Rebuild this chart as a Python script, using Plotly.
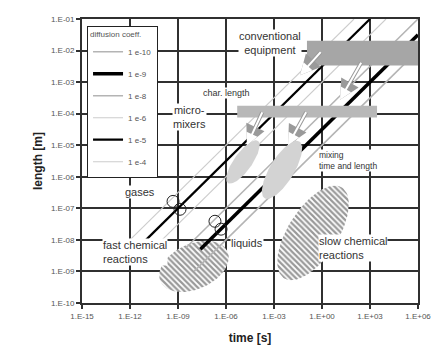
import numpy as np
import plotly.graph_objects as go

# ---------------- data ----------------
diff_coeffs = [1e-10, 1e-9, 1e-8, 1e-6, 1e-5, 1e-4]          # m^2/s
diff_labels = ["1 e-10", "1 e-9", "1 e-8", "1 e-6", "1 e-5", "1 e-4"]
line_t_start = [1e-8, 10**-7.6, 10**-8.5, 10**-11.5, 10**-11, 10**-12]  # s
t_max = 1e6
L_max = 1e-1

x_tickvals = [1e-15, 1e-12, 1e-9, 1e-6, 1e-3, 1e0, 1e3, 1e6]
x_ticktext = ["1.E-15", "1.E-12", "1.E-09", "1.E-06", "1.E-03", "1.E+00", "1.E+03", "1.E+06"]
y_tickvals = [1e-10, 1e-9, 1e-8, 1e-7, 1e-6, 1e-5, 1e-4, 1e-3, 1e-2, 1e-1]
y_ticktext = ["1.E-10", "1.E-09", "1.E-08", "1.E-07", "1.E-06", "1.E-05",
              "1.E-04", "1.E-03", "1.E-02", "1.E-01"]

# regions (log10 time, log10 length)
conv_equip_t = [-0.94, 6.0]
conv_equip_L = [-2.47, -1.69]
char_len_t = [-5.3, 3.44]
char_len_L = [-4.125, -3.75]

# ellipses: centre log t, centre log L, semi-axes (time-decades), tilt deg
mixing_blobs = [(-4.94, -5.53, 1.63, 0.56, 55), (-2.5, -5.78, 2.1, 0.75, 59)]
fast_reaction_blob = (-8.0, -8.84, 2.3, 1.44, 25)
slow_reaction_blob = (-0.56, -7.78, 3.4, 1.56, 58)

gas_circles_t = [-9.31, -8.875]
gas_circles_L = [-6.78, -7.03]
liq_circles_t = [-6.69, -6.31]
liq_circles_L = [-7.41, -7.66]

# arrows: (tail log t, tail log L, head log t, head log L)
arrows = [(0.0, -2.0, -1.375, -2.78), (2.5, -2.34, 1.125, -3.56),
          (-3.69, -3.91, -4.69, -5.0), (-0.94, -3.91, -2.125, -5.0)]

# ---------------- style ----------------
line_colors = ["#b4b4b4", "#000000", "#b4b4b4", "#cccccc", "#000000", "#cccccc"]
line_widths = [1.6, 3.5, 1.6, 1.1, 2.2, 1.1]
FONT = "Liberation Sans, Arial, sans-serif"
TXT = "#333333"
GRID = "#303030"


def ellipse(cx, cy, a, b, phi_deg, n=90):
    th = np.linspace(0, 2 * np.pi, n)
    p = np.radians(phi_deg)
    ex = cx + a * np.cos(th) * np.cos(p) - b * np.sin(th) * np.sin(p)
    ey = cy + (a * np.cos(th) * np.sin(p) + b * np.sin(th) * np.cos(p)) / 2
    return 10 ** ex, 10 ** ey


fig = go.Figure()

# hatched reaction regions
for blob in [fast_reaction_blob, slow_reaction_blob]:
    ex, ey = ellipse(*blob)
    fig.add_trace(go.Scatter(
        x=ex, y=ey, mode="lines", fill="toself", line=dict(width=0, color="white"),
        fillcolor="white",
        fillpattern=dict(shape="\\", fgcolor="#333333", bgcolor="white", size=4, solidity=0.55),
        showlegend=False, hoverinfo="skip"))

# diffusion lines L = sqrt(D t)
order = [3, 5, 0, 2, 4, 1]  # draw grey first, black last
traces = {}
for i, (D, lab, t0) in enumerate(zip(diff_coeffs, diff_labels, line_t_start)):
    t1 = min(t_max, L_max ** 2 / D)
    t = np.array([t0, t1])
    L = np.sqrt(D * t)
    traces[i] = go.Scatter(x=t, y=L, mode="lines", name=lab, legendrank=i + 1,
                           line=dict(color=line_colors[i], width=line_widths[i]),
                           legendgroup=lab, hoverinfo="skip")
for i in order:
    fig.add_trace(traces[i])

# equipment rectangles
for tt, LL, col in [(conv_equip_t, conv_equip_L, "#a6a6a6"), (char_len_t, char_len_L, "#b8b8b8")]:
    fig.add_trace(go.Scatter(
        x=[10 ** tt[0], 10 ** tt[1], 10 ** tt[1], 10 ** tt[0], 10 ** tt[0]],
        y=[10 ** LL[0], 10 ** LL[0], 10 ** LL[1], 10 ** LL[1], 10 ** LL[0]],
        mode="lines", fill="toself", fillcolor=col, line=dict(width=0, color=col),
        showlegend=False, hoverinfo="skip"))

# micromixer mixing regions
for blob in mixing_blobs:
    ex, ey = ellipse(*blob)
    fig.add_trace(go.Scatter(x=ex, y=ey, mode="lines", fill="toself", fillcolor="#d3d3d3",
                             line=dict(width=0, color="#d3d3d3"), showlegend=False, hoverinfo="skip"))

# circles for gases / liquids
fig.add_trace(go.Scatter(x=10 ** np.array(gas_circles_t + liq_circles_t),
                         y=10 ** np.array(gas_circles_L + liq_circles_L), mode="markers",
                         marker=dict(symbol="circle-open", size=12, color="#222", line=dict(width=1)),
                         showlegend=False, hoverinfo="skip"))

annotations = []
for (xt, yt, xh, yh) in arrows:
    for col, w, s in [("#9a9a9a", 4, 1.0), ("white", 2, 1.2)]:
        annotations.append(dict(x=xh, y=yh, ax=xt, ay=yt, xref="x", yref="y", axref="x", ayref="y",
                                text="", showarrow=True, arrowhead=2, arrowwidth=w, arrowsize=s,
                                arrowcolor=col))


def label(text, xl, yl, size=11, xanchor="center", align="center"):
    annotations.append(dict(x=xl, y=yl, xref="x", yref="y", text=text, showarrow=False,
                            xanchor=xanchor, align=align, bgcolor="white", borderpad=0,
                            font=dict(family=FONT, size=size, color=TXT)))


label("conventional<br>equipment", -3.25, -1.77)
label("char. length", -5.94, -3.34, size=9)
label("micro-<br>mixers", -8.31, -4.12)
label("mixing<br>time and length", -0.25, -5.47, size=8.5, xanchor="left", align="left")
label("gases", -11.4, -6.47)
label("liquids", -4.69, -8.09)
label("fast chemical<br>reactions", -13.75, -8.37, xanchor="left", align="left")
label("slow chemical<br>reactions", -0.25, -8.25, xanchor="left", align="left")

# page body adds an 8 px offset; figure is sized so the plot area lands where the reference has it
fig.update_layout(
    width=435, height=342,
    margin=dict(l=74, r=25, t=7, b=47),
    paper_bgcolor="white", plot_bgcolor="white",
    font=dict(family=FONT),
    legend=dict(x=0.015, y=0.976, xanchor="left", yanchor="top", bgcolor="white",
                bordercolor="#222", borderwidth=1, itemwidth=30, tracegroupgap=3,
                font=dict(family=FONT, size=8, color="#555"),
                title=dict(text="diffusion coeff.", font=dict(family=FONT, size=8, color="#555"))),
    annotations=annotations,
    showlegend=True,
)
for upd, rng, tv, tt, title, so in [
        (fig.update_xaxes, [-15, 6], x_tickvals, x_ticktext, "time [s]", 14),
        (fig.update_yaxes, [-10, -1], y_tickvals, y_ticktext, "length [m]", 6)]:
    upd(type="log", range=rng, tickmode="array", tickvals=tv, ticktext=tt,
        showgrid=True, gridcolor=GRID, gridwidth=1.8,
        showline=True, linecolor=GRID, linewidth=1.8, mirror=True,
        ticks="outside", ticklen=4, tickcolor=GRID, tickwidth=1.5, zeroline=False,
        tickfont=dict(family=FONT, size=8, color="#555"),
        title=dict(text=title, standoff=so, font=dict(family=FONT, size=12, color="#222", weight="bold")))

fig.write_html("out.html")
